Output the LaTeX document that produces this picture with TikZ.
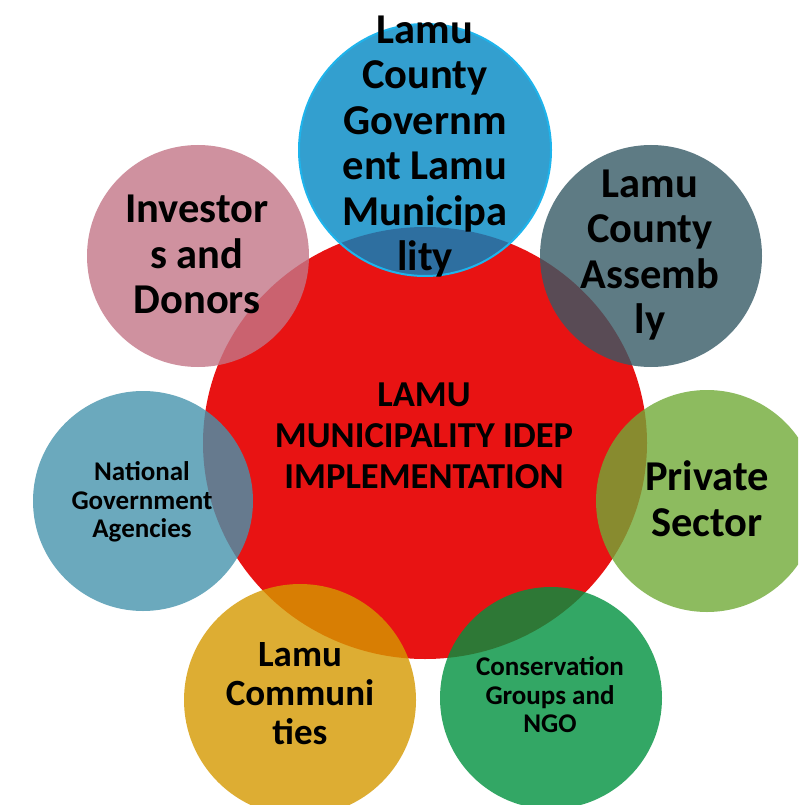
\documentclass[tikz,border=0pt]{standalone}
\usepackage{fontspec}
\setmainfont{Carlito}
\usetikzlibrary{shapes.geometric}
\definecolor{cred}{RGB}{232,19,19}
\definecolor{cblue}{RGB}{0,135,196}
\definecolor{cblueedge}{RGB}{30,180,236}
\definecolor{cgray}{RGB}{54,90,102}
\definecolor{clgreen}{RGB}{113,170,55}
\definecolor{cdgreen}{RGB}{0,146,63}
\definecolor{cyellow}{RGB}{213,153,0}
\definecolor{clblue}{RGB}{70,148,173}
\definecolor{cpink}{RGB}{195,118,135}
\begin{document}
\begin{tikzpicture}[x=1pt,y=-1pt,
  sat/.style={circle, draw=none, fill opacity=0.8, inner sep=0pt},
  lbl/.style={align=center, text=black, inner sep=0pt},
  fbig/.style={font=\fontsize{42.5}{45.5}\selectfont\bfseries},
  fmid/.style={font=\fontsize{36.5}{41}\selectfont\bfseries},
  fcom/.style={font=\fontsize{37}{39}\selectfont\bfseries},
  fsmall/.style={font=\fontsize{27}{28.5}\selectfont\bfseries}]
\clip (0,0) rectangle (798,805);
\fill[white] (0,0) rectangle (798,805);
% central circle
\node[ellipse, fill=cred, draw=none, inner sep=0pt, minimum width=444pt, minimum height=432pt] (core) at (425,443) {};
% satellites
\node[sat, fill=cblue, draw=cblueedge, draw opacity=1, line width=2pt, minimum size=252pt] (gov) at (425,150) {};
\node[sat, fill=cgray, minimum size=222pt] (asm) at (651,256) {};
\node[sat, fill=clgreen, minimum size=222pt] (prv) at (707,501) {};
\node[sat, fill=cdgreen, minimum size=222pt] (ngo) at (551,698) {};
\node[sat, fill=cyellow, minimum size=232pt] (com) at (300,700) {};
\node[sat, fill=clblue, minimum size=220pt] (nat) at (143,501) {};
\node[sat, fill=cpink, minimum size=222pt] (inv) at (198,256) {};
% labels
\node[lbl, fmid] (tcore) at (424,435.5) {LAMU\\MUNICIPALITY IDEP\\IMPLEMENTATION};
\node[lbl, fbig] (tgov) at (425,146.5) {Lamu\\County\\Governm\\ent Lamu\\Municipa\\lity};
\node[lbl, fbig] (tasm) at (650,255) {Lamu\\County\\Assemb\\ly};
\node[lbl, fbig] (tprv) at (707,498.5) {Private\\Sector};
\node[lbl, fsmall] (tngo) at (550,695) {Conservation\\Groups and\\NGO};
\node[lbl, fcom] (tcom) at (300,694) {Lamu\\Communi\\ties};
\node[lbl, fsmall] (tnat) at (142,502) {National\\Government\\Agencies};
\node[lbl, fbig] (tinv) at (197,254.5) {Investor\\s and\\Donors};
\end{tikzpicture}
\end{document}
